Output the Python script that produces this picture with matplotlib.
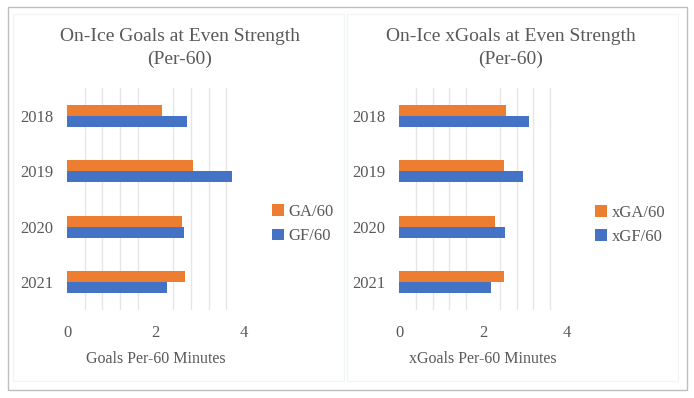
import matplotlib.pyplot as plt
import numpy as np
from matplotlib.patches import Rectangle

plt.rcParams["font.family"] = ["Liberation Serif", "DejaVu Serif"]

years = ["2018", "2019", "2020", "2021"]
ga_60 = [2.15, 2.85, 2.60, 2.67]
gf_60 = [2.71, 3.73, 2.64, 2.26]
xga_60 = [2.55, 2.49, 2.28, 2.49]
xgf_60 = [3.09, 2.95, 2.52, 2.19]

ORANGE = "#ED7D31"
BLUE = "#4472C4"
TEXT = "#595959"
GRID = "#E6E6E6"


def draw_panel(fig, rect, against, for_, labels, title, xlabel, legend_xy):
    ax = fig.add_axes(rect)
    y = np.arange(len(years))
    h = 0.2
    ax.barh(y - h / 2, against, height=h, color=ORANGE, label=labels[0], zorder=3)
    ax.barh(y + h / 2, for_, height=h, color=BLUE, label=labels[1], zorder=3)
    ax.set_ylim(3.5, -0.5)
    ax.set_xlim(0, 4)
    ax.set_yticks(y, labels=years)
    ax.set_xticks([0, 2, 4])
    ax.set_xticks(np.arange(0, 4.01, 0.4), minor=True)
    ax.grid(axis="x", which="minor", color=GRID, linewidth=1, zorder=0)
    ax.tick_params(which="both", length=0, labelsize=12, colors=TEXT)
    ax.tick_params(axis="y", pad=10)
    ax.tick_params(axis="x", pad=11)
    for s in ax.spines.values():
        s.set_visible(False)
    ax.set_xlabel(xlabel, fontsize=11.5, color=TEXT, labelpad=7)
    fig.text(legend_xy[2], 0.908, title, ha="center", va="center", fontsize=14, color=TEXT)
    fig.text(legend_xy[2], 0.85, "(Per-60)", ha="center", va="center", fontsize=14, color=TEXT)
    ax.legend(loc="center left", bbox_to_anchor=legend_xy[:2], bbox_transform=fig.transFigure,
              frameon=False, fontsize=12, labelcolor=TEXT, handlelength=0.7, handleheight=0.7,
              handletextpad=0.3, labelspacing=0.5)
    return ax


fig = plt.figure(figsize=(6.94, 3.98), dpi=100)

# outer frame and faint panel frames
fig.add_artist(Rectangle((8 / 694, 1 - 390 / 398), 679 / 694, 383 / 398, transform=fig.transFigure,
                         fill=False, edgecolor="#BFBFBF", linewidth=1))
fig.add_artist(Rectangle((13 / 694, 1 - 381 / 398), 331 / 694, 367 / 398, transform=fig.transFigure,
                         fill=False, edgecolor="#F2F5F8", linewidth=1))
fig.add_artist(Rectangle((347 / 694, 1 - 381 / 398), 331 / 694, 367 / 398, transform=fig.transFigure,
                         fill=False, edgecolor="#F2F5F8", linewidth=1))

draw_panel(fig, [67 / 694, 88 / 398, 177 / 694, 222 / 398], ga_60, gf_60,
           ["GA/60", "GF/60"], "On-Ice Goals at Even Strength", "Goals Per-60 Minutes",
           (257 / 694, 1 - 224 / 398, 180 / 694))
draw_panel(fig, [399 / 694, 88 / 398, 168 / 694, 222 / 398], xga_60, xgf_60,
           ["xGA/60", "xGF/60"], "On-Ice xGoals at Even Strength", "xGoals Per-60 Minutes",
           (580 / 694, 1 - 225 / 398, 511 / 694))

fig.savefig("out.png", dpi=100)
